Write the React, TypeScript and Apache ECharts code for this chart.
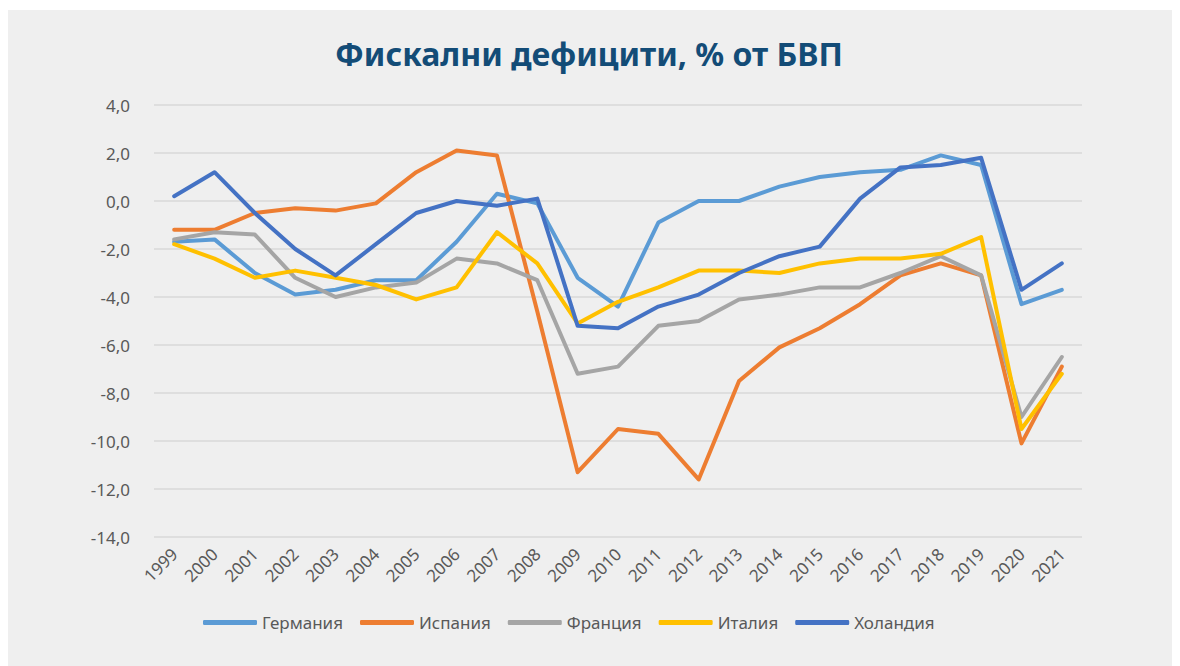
import React, { useEffect, useRef } from "react";
import * as echarts from "echarts";

const years = ["1999","2000","2001","2002","2003","2004","2005","2006","2007","2008","2009","2010","2011","2012","2013","2014","2015","2016","2017","2018","2019","2020","2021"];
const germany = [-1.7,-1.6,-3.0,-3.9,-3.7,-3.3,-3.3,-1.7,0.3,-0.1,-3.2,-4.4,-0.9,0.0,0.0,0.6,1.0,1.2,1.3,1.9,1.5,-4.3,-3.7];
const spain = [-1.2,-1.2,-0.5,-0.3,-0.4,-0.1,1.2,2.1,1.9,-4.6,-11.3,-9.5,-9.7,-11.6,-7.5,-6.1,-5.3,-4.3,-3.1,-2.6,-3.1,-10.1,-6.9];
const france = [-1.6,-1.3,-1.4,-3.2,-4.0,-3.6,-3.4,-2.4,-2.6,-3.3,-7.2,-6.9,-5.2,-5.0,-4.1,-3.9,-3.6,-3.6,-3.0,-2.3,-3.1,-9.0,-6.5];
const italy = [-1.8,-2.4,-3.2,-2.9,-3.2,-3.5,-4.1,-3.6,-1.3,-2.6,-5.1,-4.2,-3.6,-2.9,-2.9,-3.0,-2.6,-2.4,-2.4,-2.2,-1.5,-9.5,-7.2];
const netherlands = [0.2,1.2,-0.5,-2.0,-3.1,-1.8,-0.5,0.0,-0.2,0.1,-5.2,-5.3,-4.4,-3.9,-3.0,-2.3,-1.9,0.1,1.4,1.5,1.8,-3.7,-2.6];

const seriesNames = ["Германия","Испания","Франция","Италия","Холандия"];
const seriesData = [germany, spain, france, italy, netherlands];
const colors = ["#5b9bd5","#ed7d31","#a5a5a5","#ffc000","#4472c4"];
const titleText = "Фискални дефицити, % от БВП";

export default function App() {
  const ref = useRef<HTMLDivElement>(null);
  useEffect(() => {
    if (!ref.current) return;
    const chart = echarts.init(ref.current, undefined, { renderer: "svg" });
    const font = "'Noto Sans', sans-serif";
    chart.setOption({
      animation: false,
      backgroundColor: "#efefef",
      title: {
        text: titleText,
        left: 322,
        top: 22,
        textStyle: { color: "#134c77", fontSize: 32, fontWeight: "bold", fontFamily: font },
      },
      legend: {
        bottom: 30,
        left: 190,
        icon: "roundRect",
        itemWidth: 54,
        itemHeight: 5,
        itemGap: 17,
        textStyle: { color: "#595959", fontSize: 17, fontFamily: font },
        data: seriesNames,
      },
      grid: { left: 146, right: 98, top: 95, bottom: 129 },
      xAxis: {
        type: "category",
        data: years,
        boundaryGap: true,
        axisLine: { show: false },
        axisTick: { show: false },
        axisLabel: { rotate: 45, color: "#595959", fontSize: 17, fontFamily: font, margin: 14 },
      },
      yAxis: {
        type: "value",
        min: -14,
        max: 4,
        interval: 2,
        axisLine: { show: false },
        axisTick: { show: false },
        splitLine: { lineStyle: { color: "#d9d9d9", width: 1.5 } },
        axisLabel: {
          color: "#595959",
          fontSize: 17,
          fontFamily: font,
          margin: 24,
          formatter: (v: number) => v.toFixed(1).replace(".", ","),
        },
      },
      series: seriesNames.map((n, i) => ({
        name: n,
        type: "line",
        data: seriesData[i],
        showSymbol: false,
        symbol: "none",
        color: colors[i],
        lineStyle: { width: 4, color: colors[i], cap: "round", join: "round" },
      })),
    });
    return () => chart.dispose();
  }, []);
  return <div ref={ref} style={{ width: 1172, height: 656, marginTop: 2 }} />;
}
